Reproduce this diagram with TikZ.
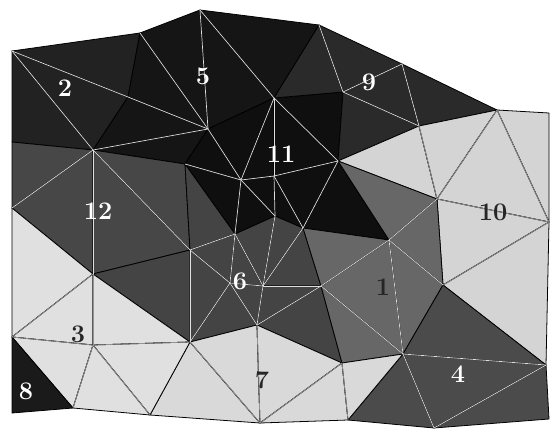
\documentclass[tikz,border=0pt]{standalone}
\usetikzlibrary{positioning}

\definecolor{rgnA}{HTML}{222222}
\definecolor{rgnB}{HTML}{151515}
\definecolor{rgnC}{HTML}{0E0F0E}
\definecolor{rgnD}{HTML}{2A2A2A}
\definecolor{rgnE}{HTML}{D4D4D4}
\definecolor{rgnF}{HTML}{474747}
\definecolor{rgnG}{HTML}{444444}
\definecolor{rgnH}{HTML}{676767}
\definecolor{rgnI}{HTML}{4B4B4B}
\definecolor{rgnJ}{HTML}{D9D9D9}
\definecolor{rgnK}{HTML}{E0E0E0}
\definecolor{rgnL}{HTML}{1A1A1A}

\begin{document}
\begin{tikzpicture}[
    x=0.02cm, y=-0.02cm,
    cell/.style={draw=black, line width=0.45pt, line join=round},
    mesh/.style={line width=0.4pt, white!75!gray},
    meshdark/.style={line width=0.4pt, gray!85},
    tag/.style={font=\bfseries\Large, text=white, inner sep=1pt},
    tagdark/.style={tag, text=black!85}
]
\useasboundingbox (0,0) rectangle (550,429);

% Mesh vertices (pixel grid of the picture)
\coordinate (p1) at (12,51);   \coordinate (p2) at (140,33);
\coordinate (p3) at (200,10);  \coordinate (p4) at (128,97);
\coordinate (p5) at (208,129); \coordinate (p6) at (93,150);
\coordinate (p7) at (12,142);  \coordinate (p8) at (274,98);
\coordinate (p9) at (319,25);  \coordinate (p10) at (343,92);
\coordinate (p11) at (402,64); \coordinate (p12) at (419,126);
\coordinate (p13) at (497,110);\coordinate (p14) at (338,161);
\coordinate (p15) at (437,199);\coordinate (p16) at (549,113);
\coordinate (p17) at (549,222);\coordinate (p18) at (443,285);
\coordinate (p19) at (389,240);\coordinate (p20) at (321,286);
\coordinate (p21) at (403,354);\coordinate (p22) at (342,363);
\coordinate (p23) at (348,420);\coordinate (p24) at (434,428);
\coordinate (p25) at (546,365);\coordinate (p26) at (549,419);
\coordinate (p28) at (185,164);\coordinate (p29) at (241,180);
\coordinate (p30) at (275,216);\coordinate (p31) at (303,228);
\coordinate (p32) at (235,234);\coordinate (p33) at (274,176);
\coordinate (p34) at (190,250);\coordinate (p35) at (263,286);
\coordinate (p36) at (257,325);\coordinate (p37) at (190,342);
\coordinate (p38) at (230,283);\coordinate (p39) at (12,208);
\coordinate (p40) at (93,274); \coordinate (p41) at (12,337);
\coordinate (p42) at (93,345); \coordinate (p43) at (73,408);
\coordinate (p44) at (150,415);\coordinate (p45) at (12,413);
\coordinate (p46) at (260,423);

% Regions: filled triangles
\foreach \a/\b/\c in {p1/p2/p4, p1/p4/p6, p1/p6/p7}
    \filldraw[cell, fill=rgnA] (\a) -- (\b) -- (\c) -- cycle;
\foreach \a/\b/\c in {p2/p4/p5, p2/p3/p5, p3/p8/p5, p3/p9/p8, p4/p6/p5, p6/p5/p28}
    \filldraw[cell, fill=rgnB] (\a) -- (\b) -- (\c) -- cycle;
\foreach \a/\b/\c in {p5/p8/p29, p5/p29/p28, p8/p33/p29, p8/p14/p33, p8/p10/p14,
                      p29/p33/p30, p29/p30/p32, p33/p14/p31, p33/p31/p30,
                      p14/p19/p31, p28/p29/p32}
    \filldraw[cell, fill=rgnC] (\a) -- (\b) -- (\c) -- cycle;
\foreach \a/\b/\c in {p9/p8/p10, p9/p10/p11, p10/p11/p12, p10/p12/p14, p11/p13/p12}
    \filldraw[cell, fill=rgnD] (\a) -- (\b) -- (\c) -- cycle;
\foreach \a/\b/\c in {p14/p12/p15, p12/p13/p15, p13/p16/p17, p13/p17/p15,
                      p15/p17/p18, p18/p17/p25}
    \filldraw[cell, fill=rgnE] (\a) -- (\b) -- (\c) -- cycle;
\foreach \a/\b/\c in {p7/p6/p39, p6/p39/p40, p6/p40/p34, p6/p34/p28}
    \filldraw[cell, fill=rgnF] (\a) -- (\b) -- (\c) -- cycle;
\foreach \a/\b/\c in {p28/p32/p34, p34/p32/p38, p32/p35/p38, p32/p30/p35,
                      p30/p31/p35, p31/p20/p35, p35/p20/p36, p35/p36/p38,
                      p38/p36/p37, p34/p38/p37, p40/p34/p37, p20/p36/p22}
    \filldraw[cell, fill=rgnG] (\a) -- (\b) -- (\c) -- cycle;
\foreach \a/\b/\c in {p14/p19/p15, p19/p15/p18, p19/p18/p21, p19/p21/p20,
                      p19/p20/p31, p20/p22/p21}
    \filldraw[cell, fill=rgnH] (\a) -- (\b) -- (\c) -- cycle;
\foreach \a/\b/\c in {p18/p25/p21, p21/p25/p24, p24/p25/p26, p21/p24/p23}
    \filldraw[cell, fill=rgnI] (\a) -- (\b) -- (\c) -- cycle;
\foreach \a/\b/\c in {p37/p44/p46, p37/p36/p46, p36/p22/p46, p22/p23/p46, p22/p21/p23}
    \filldraw[cell, fill=rgnJ] (\a) -- (\b) -- (\c) -- cycle;
\foreach \a/\b/\c in {p39/p40/p41, p40/p41/p42, p40/p42/p37, p42/p37/p44,
                      p41/p42/p43, p42/p43/p44}
    \filldraw[cell, fill=rgnK] (\a) -- (\b) -- (\c) -- cycle;
\filldraw[cell, fill=rgnL] (p41) -- (p43) -- (p45) -- cycle;

% Inner mesh edges
\foreach \a/\b in {p1/p4, p4/p5, p1/p6, p2/p5, p3/p5, p3/p8, p5/p6,
                   p8/p29, p8/p33, p8/p14, p29/p33, p33/p14, p29/p30, p33/p30,
                   p29/p32, p33/p31, p14/p31, p5/p29, p28/p29,
                   p9/p10, p10/p11, p10/p12, p11/p12,
                   p6/p39, p6/p40, p6/p34,
                   p32/p34, p32/p38, p32/p35, p30/p35, p31/p35, p20/p35,
                   p35/p36, p35/p38, p38/p36, p38/p37, p34/p38, p34/p37, p20/p36,
                   p19/p15, p19/p18, p19/p21, p19/p20, p20/p21,
                   p21/p25, p21/p24, p24/p25}
    \draw[mesh] (\a) -- (\b);
\foreach \a/\b in {p12/p15, p13/p15, p13/p17, p15/p17, p17/p18,
                   p37/p46, p36/p46, p22/p46, p22/p23,
                   p40/p41, p40/p42, p41/p42, p42/p37, p42/p43, p42/p44}
    \draw[meshdark] (\a) -- (\b);

% Region numbers
\node[tag] (n2) at (65,88) {2};
\node[tag] (n5) at (203,76) {5};
\node[tag] (n9) at (369,82) {9};
\node[tag] (n11) at (281,154) {11};
\node[tag] (n12) at (98,211) {12};
\node[tagdark] (n10) at (493,212) {10};
\node[tag] (n6) at (240,281) {6};
\node[tagdark] (n1) at (383,287) {1};
\node[tagdark] (n3) at (78,334) {3};
\node[tagdark] (n7) at (262,380) {7};
\node[tag] (n4) at (458,374) {4};
\node[tag] (n8) at (26,391) {8};

\end{tikzpicture}
\end{document}
